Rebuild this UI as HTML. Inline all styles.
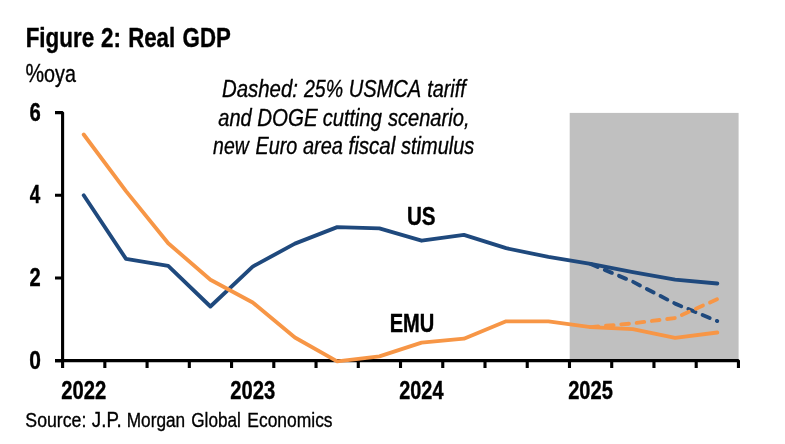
<!DOCTYPE html>
<html><head><meta charset="utf-8"><title>Figure 2: Real GDP</title>
<style>
html,body{margin:0;padding:0;background:#fff;}
svg{display:block;font-family:"Liberation Sans",Arial,Helvetica,sans-serif;}
text{fill:#000;stroke:#000;stroke-linejoin:round;}
text.b{font-weight:700;stroke-width:0.4px;}
text.r{stroke-width:0.35px;}
text.i{font-style:italic;stroke-width:0.35px;}
</style></head>
<body>
<svg width="785" height="444" viewBox="0 0 785 444">
<rect x="0" y="0" width="785" height="444" fill="#ffffff"/>
<rect x="569.7" y="112.9" width="168.9" height="247" fill="#c0c0c0"/>
<g fill="none" stroke="#000" stroke-width="3.1">
<path stroke-linejoin="bevel" d="M55 112.6 H62.6 V368"/>
<path stroke-linejoin="bevel" d="M55 360.6 H738.44 V368"/>
<path d="M104.84 360.6 V368 M147.08 360.6 V368 M189.32 360.6 V368 M231.56 360.6 V368 M273.80 360.6 V368 M316.04 360.6 V368 M358.28 360.6 V368 M400.52 360.6 V368 M442.76 360.6 V368 M485.00 360.6 V368 M527.24 360.6 V368 M569.48 360.6 V368 M611.72 360.6 V368 M653.96 360.6 V368 M696.20 360.6 V368 "/>
<path d="M55 360.60 H62.6 M55 277.93 H62.6 M55 195.27 H62.6 "/>
</g>
<g fill="none" stroke-width="3.85" stroke-linecap="round" stroke-linejoin="round">
<polyline stroke="#1f497d" points="83.7,195.3 126.0,258.9 168.2,265.9 210.4,306.5 252.7,266.6 294.9,243.6 337.2,227.1 379.4,228.3 421.6,240.7 463.9,234.9 506.1,248.2 548.4,256.9 590.6,263.9 632.8,272.1 675.1,279.6 717.3,283.5"/>
<polyline stroke="#f79646" points="83.7,134.5 126.0,191.1 168.2,243.2 210.4,279.8 252.7,302.5 294.9,337.5 337.2,361.4 379.4,356.3 421.6,342.6 463.9,338.7 506.1,321.3 548.4,321.3 590.6,327.1 632.8,329.2 675.1,337.9 717.3,332.5"/>
<polyline stroke="#1f497d" stroke-dasharray="7.7 7.7" points="590.6,263.9 632.8,281.7 675.1,303.6 717.3,321.1"/>
<polyline stroke="#f79646" stroke-dasharray="7.7 7.7" points="590.6,327.1 632.8,323.4 675.1,318.0 717.3,299.2"/>
</g>
<g>
<text class="b" font-size="27.4" transform="translate(25.66 46.85) scale(0.8187 1)">Figure</text>
<text class="b" font-size="27.9" transform="translate(100.98 46.85) scale(0.8033 1)">2:</text>
<text class="b" font-size="27.4" transform="translate(128.23 46.85) scale(0.8103 1)">Real</text>
<text class="b" font-size="28.3" transform="translate(182.59 46.85) scale(0.7865 1)">GDP</text>
<text class="r" font-size="26.2" transform="translate(25.39 82.30) scale(0.7993 1)">%</text>
<text class="r" font-size="23.5" transform="translate(44.06 82.10) scale(0.8393 1)">oya</text>
<text class="i" font-size="24.1" transform="translate(221.90 97.20) scale(0.8477 1)">Dashed:</text>
<text class="i" font-size="24.3" transform="translate(303.94 97.20) scale(0.8058 1)">25%</text>
<text class="i" font-size="24.3" transform="translate(348.64 97.20) scale(0.8285 1)">USMCA</text>
<text class="i" font-size="24.1" transform="translate(427.13 97.20) scale(0.8241 1)">tariff</text>
<text class="i" font-size="24.1" transform="translate(218.29 125.70) scale(0.8318 1)">and</text>
<text class="i" font-size="24.3" transform="translate(257.20 125.70) scale(0.8438 1)">DOGE</text>
<text class="i" font-size="24.1" transform="translate(322.78 125.70) scale(0.8330 1)">cutting</text>
<text class="i" font-size="24.1" transform="translate(387.89 125.70) scale(0.8351 1)">scenario,</text>
<text class="i" font-size="24.1" transform="translate(213.11 153.50) scale(0.8063 1)">new</text>
<text class="i" font-size="24.1" transform="translate(255.52 153.50) scale(0.8207 1)">Euro</text>
<text class="i" font-size="24.1" transform="translate(302.99 153.50) scale(0.8289 1)">area</text>
<text class="i" font-size="24.1" transform="translate(348.53 153.50) scale(0.8518 1)">fiscal</text>
<text class="i" font-size="24.1" transform="translate(401.09 153.50) scale(0.8284 1)">stimulus</text>
<text class="b" font-size="25.2" transform="translate(29.62 120.80) scale(0.8033 1)">6</text>
<text class="b" font-size="25.2" transform="translate(29.76 203.17) scale(0.7485 1)">4</text>
<text class="b" font-size="25.2" transform="translate(29.46 286.03) scale(0.7985 1)">2</text>
<text class="b" font-size="25.2" transform="translate(29.18 368.90) scale(0.8328 1)">0</text>
<text class="b" font-size="25.2" transform="translate(406.92 224.70) scale(0.8197 1)">US</text>
<text class="b" font-size="25.2" transform="translate(389.71 331.80) scale(0.7973 1)">EMU</text>
<text class="b" font-size="25.2" transform="translate(61.28 398.70) scale(0.8023 1)">2022</text>
<text class="b" font-size="25.2" transform="translate(230.24 398.70) scale(0.8010 1)">2023</text>
<text class="b" font-size="25.2" transform="translate(399.21 398.70) scale(0.7897 1)">2024</text>
<text class="b" font-size="25.2" transform="translate(568.16 398.70) scale(0.7980 1)">2025</text>
<text class="r" font-size="20.9" transform="translate(25.33 426.50) scale(0.8479 1)">Source:</text>
<text class="r" font-size="21.6" transform="translate(91.84 426.50) scale(0.8658 1)">J.P.</text>
<text class="r" font-size="20.6" transform="translate(126.73 426.50) scale(0.8370 1)">Morgan</text>
<text class="r" font-size="20.9" transform="translate(191.27 426.50) scale(0.8218 1)">Global</text>
<text class="r" font-size="20.9" transform="translate(247.32 426.50) scale(0.8345 1)">Economics</text>
</g>
</svg>
</body></html>
